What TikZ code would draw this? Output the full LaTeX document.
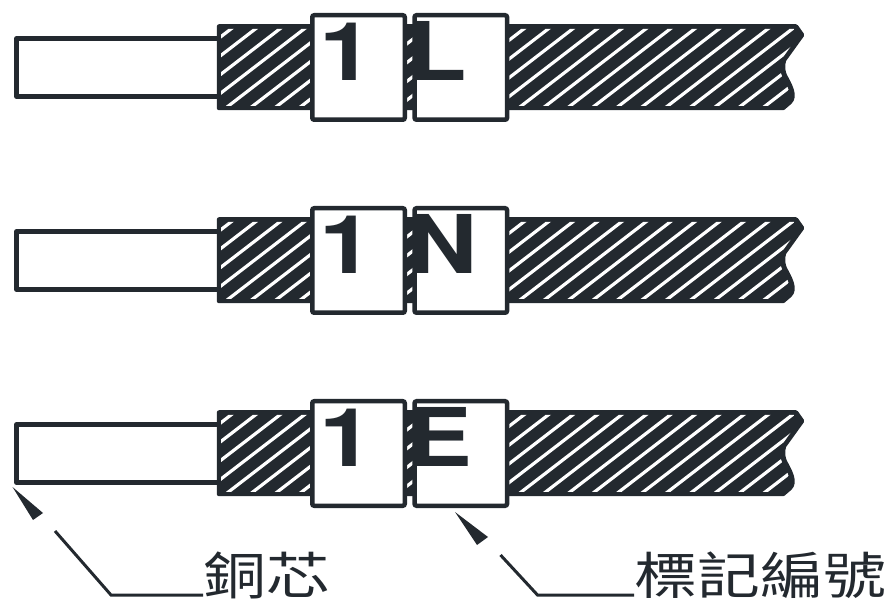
\documentclass[tikz,border=0pt]{standalone}
\usepackage{fontspec}
\setmainfont{TeX Gyre Heros}
\newfontfamily\cjk{Noto Sans CJK TC}
\definecolor{ink}{HTML}{23292F}
\tikzset{
  leader/.style={draw=ink,line width=3pt,line cap=butt,line join=miter},
  corewire/.style={draw=ink,line width=4.5pt,fill=white,line join=round},
  sheath/.style={draw=ink,line width=4.5pt,fill=ink,line join=round},
  hatchline/.style={draw=white,line width=3.2pt},
  tagbox/.style={draw=ink,line width=4.5pt,fill=white,rounded corners=2pt,
    minimum width=92.5pt,minimum height=104.5pt,inner sep=0pt,anchor=north west},
  tagtext/.style={text=ink,inner sep=0pt,anchor=base west,xscale=1.2,transform shape,
    font={\fontsize{81pt}{81pt}\selectfont\bfseries}},
  calltext/.style={text=ink,inner sep=0pt,anchor=west,yscale=0.8,transform shape,
    font={\cjk\fontsize{63pt}{70pt}\selectfont}}}

\begin{document}
\begin{tikzpicture}[x=1pt,y=-1pt]
\useasboundingbox (0,0) rectangle (892,601);
% three marked wires
\foreach \row/\tag/\dy in {1/L/0,2/N/193,3/E/386}{
\begin{scope}[yshift=-\dy pt]
\draw [corewire] (16.5,38.5) -- (219,38.5) -- (219,96.5) -- (16.5,96.5) -- cycle;
\path [sheath] (219,26.5) -- (796,26.5) -- (802,35) -- (784,60) .. controls (782,66) and (783,72) .. (785,76)
  .. controls (790,85) and (796,96) .. (790,102) -- (783,108) -- (219,108) -- cycle;
\begin{scope}
\clip (221,29) -- (794,29) -- (799,35) -- (781,60) .. controls (779,66) and (780,72) .. (782,76)
  .. controls (787,85) and (793,96) .. (787,102) -- (782,106) -- (221,106) -- cycle;
\foreach \h in {125.6,150,...,800}
  \draw [hatchline] (\h,110) -- ++(117,-90);
\end{scope}
\node [tagbox] (num\row) at (310,13) {};
\node [tagbox] (tag\row) at (412.3,13) {};
\node [tagtext] (numtext\row) at (319,80.5) {1};
\node [tagtext] (tagtext\row) at (407.5,80.5) {\tag};
\end{scope}
}
% call-outs under the last wire
\node [calltext] (copper) at (203,575.5) {銅芯};
\node [calltext] (marker) at (634,575.5) {標記編號};
\coordinate (coretip) at (12.5,487);
\coordinate (coreelbow) at (111,595);
\coordinate (coreend) at (55,531);
\coordinate (markertip) at (455,512);
\coordinate (markerelbow) at (537.5,595);
\coordinate (markerend) at (500.5,555);
\draw [leader] (copper.west |- coreelbow) -- (coreelbow) -- (coreend);
\draw [leader] (marker.west |- markerelbow) -- (markerelbow) -- (markerend);
\fill [ink] (coretip) -- (43,513) -- (33,520) -- cycle;
\fill [ink] (markertip) -- (488,537) -- (477,545) -- cycle;
\end{tikzpicture}
\end{document}
